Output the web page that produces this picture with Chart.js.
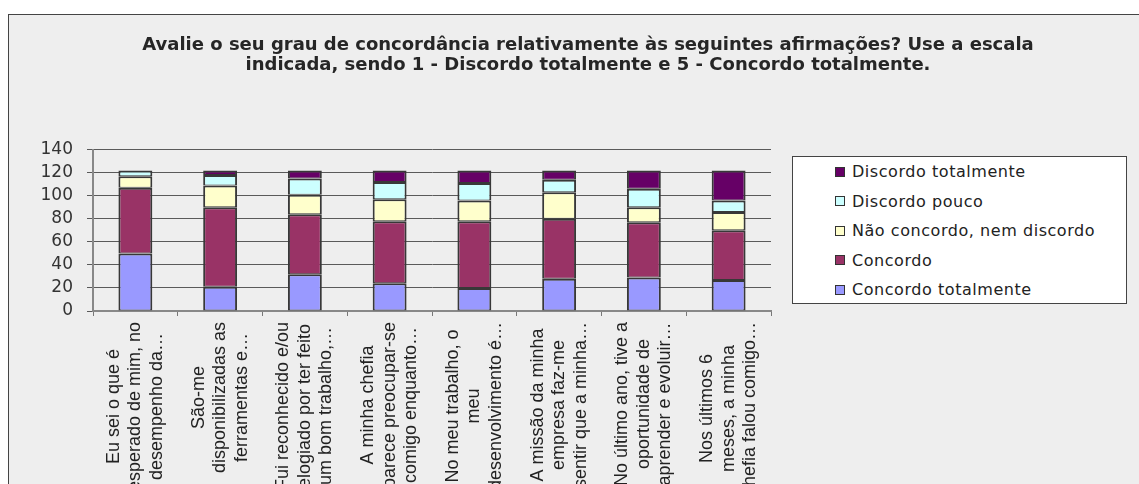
<!DOCTYPE html>
<html>
<head>
<meta charset="utf-8">
<script src="https://cdn.jsdelivr.net/npm/chart.js@4"></script>
<style>
  html, body { margin: 0; padding: 0; background: #fff; overflow: hidden; width: 1139px; height: 484px; }
  #frame { position: absolute; left: 8px; top: 14px; width: 1200px; height: 520px; background: #eeeeee; border: 1px solid #444; }
  #chart { position: absolute; left: 9px; top: 15px; }
  #legend { position: absolute; left: 792px; top: 156px; width: 335px; height: 148px; box-sizing: border-box;
            background: #fff; border: 1px solid #444; font-family: "DejaVu Sans"; font-size: 16px; letter-spacing: 0.55px; color: #222; }
  .row { height: 29.5px; display: flex; align-items: center; white-space: nowrap; }
  .sw { width: 10px; height: 10px; box-sizing: border-box; border: 1px solid #333; margin-left: 42px; margin-right: 7px; }
</style>
</head>
<body>
<div id="frame"></div>
<canvas id="chart" width="1158" height="469"></canvas>
<div id="legend"></div>
<script>
// Statements (each label split into the lines it is printed on)
const categoryLines = [
  ["Eu sei o que é", "esperado de mim, no", "desempenho da…"],
  ["São-me", "disponibilizadas as", "ferramentas e…"],
  ["Fui reconhecido e/ou", "elogiado por ter feito", "um bom trabalho,…"],
  ["A minha chefia", "parece preocupar-se", "comigo enquanto…"],
  ["No meu trabalho, o", "meu", "desenvolvimento é…"],
  ["A missão da minha", "empresa faz-me", "sentir que a minha…"],
  ["No último ano, tive a", "oportunidade de", "aprender e evoluir…"],
  ["Nos últimos 6", "meses, a minha", "chefia falou comigo…"]
];

// Number of answers per level of agreement
const concordoTotalmente     = [50, 21, 32, 24, 20, 28, 29, 27];
const concordo               = [57, 69, 52, 54, 58, 52, 48, 43];
const naoConcordoNemDiscordo = [10, 19, 17, 19, 18, 23, 13, 16];
const discordoPouco          = [5, 9, 14, 15, 15, 11, 16, 10];
const discordoTotalmente     = [0, 4, 7, 10, 11, 8, 16, 26];

const seriesNames = ["Concordo totalmente", "Concordo", "Não concordo, nem discordo", "Discordo pouco", "Discordo totalmente"];
const seriesColors = ["#9999FF", "#993366", "#FFFFCC", "#CCFFFF", "#660066"];

const yTicks = [0, 20, 40, 60, 80, 100, 120, 140];

const titleLines = [
  "Avalie o seu grau de concordância relativamente às seguintes afirmações? Use a escala",
  "indicada, sendo 1 - Discordo totalmente e 5 - Concordo totalmente."
];

const seriesValues = [concordoTotalmente, concordo, naoConcordoNemDiscordo, discordoPouco, discordoTotalmente];

// Empty layout box on the right: keeps the plot narrow while the title stays centred on the full width
const rightSpacer = {
  id: 'rightSpacer',
  beforeInit(chart) {
    Chart.layouts.addBox(chart, {
      position: 'right',
      weight: 0,
      fullSize: false,
      options: { stackWeight: 1 },
      width: 396,
      height: 0,
      isHorizontal() { return false; },
      getPadding() { return { left: 0, right: 0, top: 0, bottom: 0 }; },
      update(maxWidth, maxHeight) { this.width = 396; this.height = maxHeight; },
      draw() {}
    });
  }
};

// Rotated category labels, lines centred on each other
const xLabelPlugin = {
  id: 'xLabels',
  afterDraw(chart) {
    const { ctx, scales: { x } } = chart;
    ctx.save();
    ctx.font = '18px "Liberation Sans"';
    ctx.fillStyle = '#222';
    ctx.textAlign = 'center';
    ctx.textBaseline = 'middle';
    const lh = 21.5;
    chart.data.labels.forEach((lines, i) => {
      const px = x.getPixelForValue(i);
      const maxW = Math.max(...lines.map(l => ctx.measureText(l).width));
      const cy = x.top + 11 + maxW / 2;
      lines.forEach((line, j) => {
        ctx.save();
        ctx.translate(px + (j - (lines.length - 1) / 2) * lh, cy);
        ctx.rotate(-Math.PI / 2);
        ctx.fillText(line, 0, 0);
        ctx.restore();
      });
    });
    ctx.restore();
  }
};

const chart = new Chart(document.getElementById('chart'), {
  type: 'bar',
  data: {
    labels: categoryLines,
    datasets: seriesValues.map((vals, k) => ({
      label: seriesNames[k],
      data: vals,
      backgroundColor: seriesColors[k],
      borderColor: '#383838',
      borderWidth: { left: 2, right: 2, top: 2, bottom: 1 },
      borderSkipped: false,
      barPercentage: 0.4,
      categoryPercentage: 1.0
    }))
  },
  options: {
    responsive: false,
    animation: false,
    devicePixelRatio: 1,
    layout: { padding: 0 },
    plugins: {
      legend: { display: false },
      tooltip: { enabled: false },
      title: {
        display: true,
        text: titleLines,
        color: '#262626',
        font: { family: 'DejaVu Sans', size: 18, weight: 'bold', lineHeight: '20px' },
        padding: { top: 20, bottom: 74.7 }
      }
    },
    scales: {
      x: {
        stacked: true,
        grid: { offset: true, drawOnChartArea: false, drawTicks: true, tickLength: 5, color: '#777' },
        border: { color: '#888', width: 2 },
        ticks: { display: false },
        afterFit(scale) { scale.height = 173; }
      },
      y: {
        stacked: true,
        min: 0,
        max: 140,
        afterBuildTicks(scale) { scale.ticks = yTicks.map(v => ({ value: v })); },
        grid: { color: '#5a5a5a', lineWidth: 1, tickLength: 6, drawTicks: true },
        border: { color: '#888', width: 2 },
        ticks: { autoSkip: false, padding: 14, color: '#333', font: { family: 'DejaVu Sans', size: 17 } },
        afterFit(scale) { scale.width = 84; }
      }
    }
  },
  plugins: [rightSpacer, xLabelPlugin]
});

// Legend listing the series from top of the stack to bottom
const legend = document.getElementById('legend');
chart.data.datasets.slice().reverse().forEach(ds => {
  const row = document.createElement('div');
  row.className = 'row';
  const sw = document.createElement('span');
  sw.className = 'sw';
  sw.style.background = ds.backgroundColor;
  row.appendChild(sw);
  row.appendChild(document.createTextNode(ds.label));
  legend.appendChild(row);
});
</script>
</body>
</html>
